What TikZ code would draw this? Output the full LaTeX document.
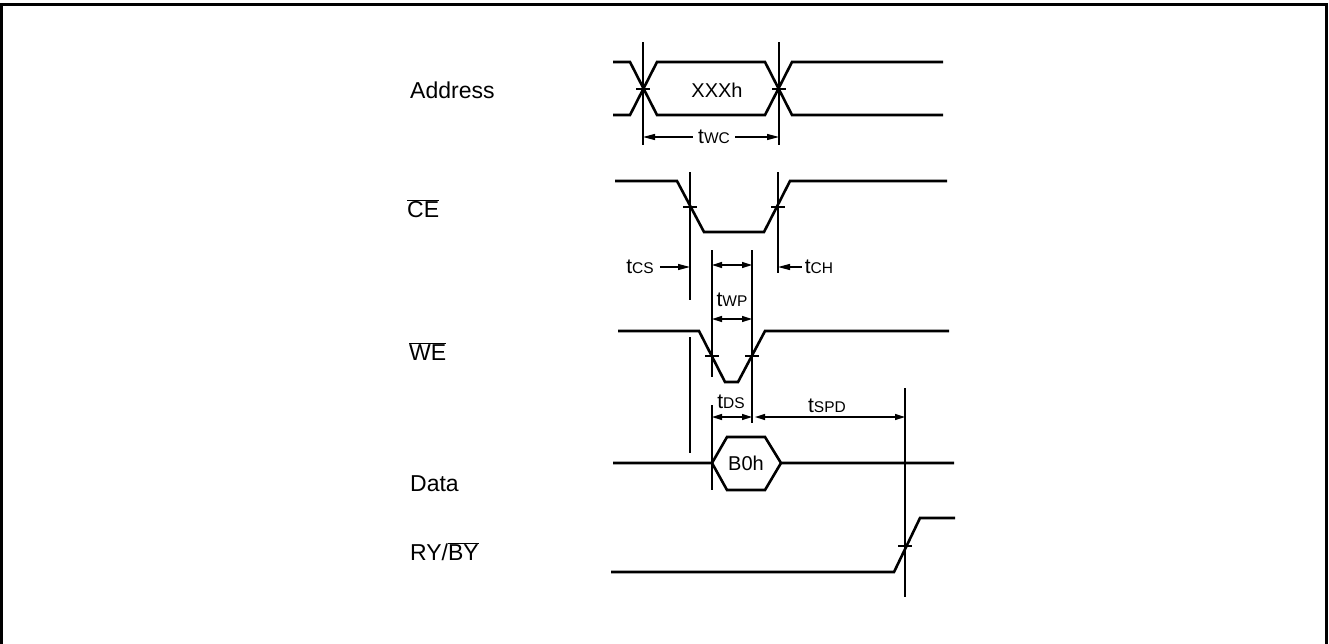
\documentclass[tikz,border=0pt]{standalone}
\usepackage{fontspec}
\setmainfont{Liberation Sans}
\usetikzlibrary{arrows.meta}
\newcommand\tsub[1]{t{\fontsize{15.5}{15.5}\selectfont #1}}
\begin{document}
\begin{tikzpicture}[x=1pt,y=-1pt,
  sig/.style={line width=2.6pt, line join=miter},
  guide/.style={line width=1.2pt},
  tickm/.style={line width=1.2pt},
  dim/.style={line width=1.3pt, -{Triangle[length=12pt,width=6pt]}},
  ddim/.style={line width=1.3pt, {Triangle[length=10pt,width=6pt]}-{Triangle[length=10pt,width=6pt]}},
  lab/.style={anchor=west, inner sep=0pt, font=\fontsize{23}{23}\selectfont},
  val/.style={inner sep=0pt, font=\fontsize{20}{20}\selectfont},
  tl/.style={inner sep=5pt, font=\fontsize{21}{21}\selectfont},
  tla/.style={inner sep=0pt, font=\fontsize{21}{21}\selectfont}]
\useasboundingbox (0,0) rectangle (1329,643);
% frame (open at the bottom edge of the crop)
\draw[line width=3pt] (1.5,700) -- (1.5,4.5) -- (1326.5,4.5) -- (1326.5,700);

% signal labels
\node[lab] (addr) at (410,90) {Address};
\node[lab] (ce) at (407,209) {$\overline{\hbox{CE}}$};
\node[lab] (we) at (409,352) {$\overline{\hbox{WE}}$};
\node[lab] (data) at (410,484) {Data};
\node[lab] (ry) at (410,552) {RY/$\overline{\hbox{BY}}$};

% ---- Address
\draw[sig] (613,62) -- (630,62) -- (657,115) -- (765,115) -- (792,62) -- (943,62);
\draw[sig] (613,115) -- (630,115) -- (657,62) -- (765,62) -- (792,115) -- (943,115);
\node[val] (xxx) at (717,90) {XXXh};
\draw[guide] (643,42) -- (643,145);
\draw[guide] (779,42) -- (779,145);
\draw[tickm] (636,89) -- (650,89);
\draw[tickm] (772,89) -- (786,89);
\coordinate (a1) at (643,137);
\coordinate (a2) at (779,137);
\node[tl] (twc) at (714,137) {\tsub{WC}};
\draw[dim] (twc) -- (a1);
\draw[dim] (twc) -- (a2);

% ---- CE
\draw[sig] (615,181) -- (677,181) -- (704,232) -- (764,232) -- (790,181) -- (947,181);
\draw[guide] (690,172) -- (690,300);
\draw[guide] (778,172) -- (778,273);
\draw[tickm] (683,207) -- (697,207);
\draw[tickm] (771,207) -- (785,207);
\coordinate (cs) at (690,267);
\coordinate (ch) at (778,267);
\node[tl, inner xsep=6pt] (tcs) at (640,267) {\tsub{CS}};
\node[tl, inner xsep=3pt] (tch) at (819,267) {\tsub{CH}};
\draw[dim] (tcs) -- (cs);
\draw[dim] (tch) -- (ch);

% ---- tWP
\draw[guide] (712,250) -- (712,377);
\draw[guide] (752,250) -- (752,423);
\coordinate (wp1) at (712,265);
\coordinate (wp2) at (752,265);
\coordinate (wp3) at (712,319);
\coordinate (wp4) at (752,319);
\draw[ddim] (wp1) -- (wp2);
\draw[ddim] (wp3) -- (wp4);
\node[tla] (twp) at (732,300) {\tsub{WP}};

% ---- WE
\draw[sig] (618,331) -- (699,331) -- (725,382) -- (738,382) -- (765,331) -- (949,331);
\draw[tickm] (705,356) -- (719,356);
\draw[tickm] (745,356) -- (759,356);

% ---- tDS / tSPD
\draw[guide] (690,337) -- (690,453);
\draw[guide] (712,405) -- (712,490);
\draw[guide] (905,388) -- (905,597);
\coordinate (ds1) at (712,417);
\coordinate (ds2) at (752,417);
\coordinate (sp1) at (755,417);
\coordinate (sp2) at (905,417);
\draw[ddim] (ds1) -- (ds2);
\draw[ddim] (sp1) -- (sp2);
\node[tla] (tds) at (731,402) {\tsub{DS}};
\node[tla] (tspd) at (827,406) {\tsub{SPD}};

% ---- Data
\draw[sig] (613,463) -- (712,463) -- (727,437) -- (765,437) -- (781,463) -- (954,463);
\draw[sig] (712,463) -- (727,490) -- (765,490) -- (781,463);
\node[val] (b0h) at (746,463) {B0h};

% ---- RY/BY
\draw[sig] (611,572) -- (894,572) -- (920,518) -- (955,518);
\draw[tickm] (898,546) -- (912,546);
\end{tikzpicture}
\end{document}
